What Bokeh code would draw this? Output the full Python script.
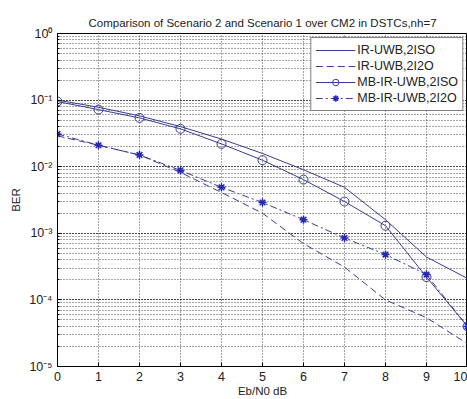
from bokeh.plotting import figure
from bokeh.models import Range1d, LogTicker, CustomJSTickFormatter, Legend, LegendItem, FixedTicker
from bokeh.embed import file_html
from bokeh.resources import INLINE

snr = [0, 1, 2, 3, 4, 5, 6, 7, 8, 9, 10]
ir_2iso = [0.100, 0.078, 0.058, 0.040, 0.026, 0.0158, 0.0090, 0.0049, 0.0016, 0.00044, 0.00021]
ir_2i2o = [0.029, 0.021, 0.015, 0.0082, 0.0041, 0.0020, 0.00070, 0.00031, 0.00010, 0.000054, 0.000022]
mb_2iso = [0.095, 0.072, 0.054, 0.037, 0.022, 0.0125, 0.0064, 0.0030, 0.0013, 0.00022, 0.000040]
mb_2i2o = [0.031, 0.021, 0.015, 0.0088, 0.0049, 0.0029, 0.0016, 0.00085, 0.00048, 0.00024, 0.000040]

col = "#3b3b8f"
star_col = "#2626b8"
font = "Liberation Sans"

p = figure(width=467, height=399, y_axis_type="log", output_backend="svg",
           toolbar_location=None, x_range=Range1d(0, 10.0), y_range=Range1d(1e-5, 1),
           min_border_left=57, min_border_right=0, min_border_top=33, min_border_bottom=33)
p.title.text = "Comparison of Scenario 2 and Scenario 1 over CM2 in DSTCs,nh=7"
p.title.text_font = font
p.title.text_font_size = "11.5px"
p.title.text_font_style = "normal"
p.title.text_color = "#222222"
p.title.align = "center"

p.background_fill_color = "white"
p.border_fill_color = "white"
p.outline_line_color = "black"

p.xaxis.ticker = FixedTicker(ticks=list(range(0, 11)))
p.yaxis.ticker = LogTicker(num_minor_ticks=10)
p.yaxis.formatter = CustomJSTickFormatter(code="""
const sup = {'0':'\u2070','1':'\u00b9','2':'\u00b2','3':'\u00b3','4':'\u2074','5':'\u2075','-':'\u207b'};
const e = Math.round(Math.log10(tick)).toString();
return '10' + e.split('').map(c => sup[c]).join('');
""")
for ax in (p.xaxis, p.yaxis):
    ax.axis_line_color = "black"
    ax.major_tick_in = 4
    ax.major_tick_out = 0
    ax.minor_tick_in = 2
    ax.minor_tick_out = 0
    ax.major_label_text_font = font
    ax.major_label_text_font_size = "12.5px"
    ax.major_label_text_color = "#222222"
    ax.axis_label_text_font = font
    ax.axis_label_text_font_size = "11.5px"
    ax.axis_label_text_font_style = "normal"
    ax.axis_label_text_color = "#222222"
p.xaxis.axis_label = "Eb/N0 dB"
p.yaxis.axis_label = "BER"
p.yaxis.axis_label_standoff = 4
p.xaxis.axis_label_standoff = 1
p.yaxis.major_label_standoff = 5

p.xgrid.grid_line_color = "black"
p.xgrid.grid_line_dash = "1 2"
p.xgrid.grid_line_alpha = 0.7
p.ygrid.grid_line_color = "black"
p.ygrid.grid_line_dash = "1 2"
p.ygrid.grid_line_alpha = 0.7
p.ygrid.minor_grid_line_color = "black"
p.ygrid.minor_grid_line_dash = "1 2"
p.ygrid.minor_grid_line_alpha = 0.7

r1 = p.line(snr, ir_2iso, line_color=col, line_width=1)
r2 = p.line(snr, ir_2i2o, line_color=col, line_width=1, line_dash="7 4")
r3 = p.line(snr, mb_2iso, line_color=col, line_width=1)
r3m = p.scatter(snr, mb_2iso, marker="circle", size=9, line_color=col, fill_color=None)
r4 = p.line(snr, mb_2i2o, line_color=col, line_width=1, line_dash="7 3 2 3")
r4m = p.scatter(snr, mb_2i2o, marker="asterisk", size=8, line_color=star_col, line_width=1.5)

legend = Legend(items=[
    LegendItem(label="IR-UWB,2ISO", renderers=[r1]),
    LegendItem(label="IR-UWB,2I2O", renderers=[r2]),
    LegendItem(label="MB-IR-UWB,2ISO", renderers=[r3, r3m]),
    LegendItem(label="MB-IR-UWB,2I2O", renderers=[r4, r4m]),
], location="top_right")
legend.label_text_font = font
legend.label_text_font_size = "12.5px"
legend.label_text_color = "#222222"
legend.border_line_color = "black"
legend.background_fill_color = "white"
legend.background_fill_alpha = 1
legend.glyph_width = 40
legend.glyph_height = 16
legend.label_height = 16
legend.spacing = 0
legend.padding = 4
legend.margin = 4
legend.label_standoff = 2
p.add_layout(legend)

open("out.html", "w").write(file_html(p, INLINE))
